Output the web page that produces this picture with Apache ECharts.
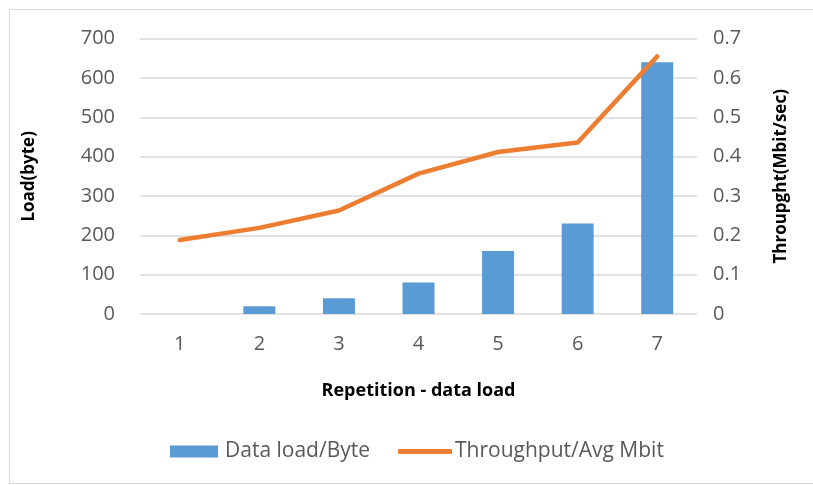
<!DOCTYPE html>
<html><head><meta charset="utf-8">
<script src="https://cdn.jsdelivr.net/npm/echarts@6/dist/echarts.min.js"></script>
<style>html,body{margin:0;padding:0;background:#fff}#c{width:813px;height:485px}</style>
</head><body><div id="c"></div>
<script>
const categories = ['1','2','3','4','5','6','7'];
const dataLoad = [0, 20, 40, 80, 160, 230, 640];
const throughput = [0.188, 0.219, 0.263, 0.357, 0.412, 0.436, 0.655];
const leftTicks = {min:0, max:700, interval:100};
const rightTicks = {min:0, max:0.7, interval:0.1};

const chart = echarts.init(document.getElementById('c'), null, {renderer:'canvas'});
const labelFont = {color:'#595959', fontSize:20, fontFamily:'Open Sans'};
chart.setOption({
  animation:false,
  graphic:[{type:'rect', shape:{x:9.5,y:9.5,width:820,height:474}, style:{fill:'none', stroke:'#d9d9d9', lineWidth:1}, silent:true}],
  grid:{left:140, right:116, top:38.7, bottom:171},
  legend:[
    {data:[{name:'Data load/Byte', icon:'rect'}], left:165, top:436, itemWidth:48, itemHeight:12, itemGap:0,
     textStyle:{color:'#595959', fontSize:21, fontFamily:'Open Sans', padding:[0,0,0,2]}},
    {data:[{name:'Throughput/Avg Mbit', icon:'roundRect'}], left:393, top:436, itemWidth:54, itemHeight:5,
     textStyle:{color:'#595959', fontSize:21, fontFamily:'Open Sans', padding:[0,0,0,-2]}}
  ],
  xAxis:{type:'category', data:categories,
    axisLine:{show:false}, axisTick:{show:false},
    axisLabel:Object.assign({margin:20}, labelFont),
    name:'Repetition - data load', nameLocation:'middle', nameGap:68,
    nameTextStyle:{color:'#000', fontSize:18, fontWeight:'bold', fontFamily:'Open Sans'}},
  yAxis:[
    {type:'value', min:leftTicks.min, max:leftTicks.max, interval:leftTicks.interval,
     axisLine:{show:false}, axisTick:{show:false},
     axisLabel:Object.assign({margin:25}, labelFont),
     splitLine:{lineStyle:{color:'#d9d9d9', width:1.5}},
     name:'Load(byte)', nameLocation:'middle', nameGap:102,
     nameTextStyle:{color:'#000', fontSize:17, fontWeight:'bold', fontFamily:'Open Sans'}},
    {type:'value', min:rightTicks.min, max:rightTicks.max, interval:rightTicks.interval,
     axisLine:{show:false}, axisTick:{show:false},
     axisLabel:Object.assign({margin:16, formatter:v=>String(Math.round(v*10)/10)}, labelFont),
     splitLine:{show:false},
     name:'Throupght(Mbit/sec)', nameLocation:'middle', nameGap:76,
     nameTextStyle:{color:'#000', fontSize:17, fontWeight:'bold', fontFamily:'Open Sans'}}
  ],
  series:[
    {name:'Data load/Byte', type:'bar', data:dataLoad, yAxisIndex:0, barWidth:32,
     itemStyle:{color:'#5b9bd5'}},
    {name:'Throughput/Avg Mbit', type:'line', data:throughput, yAxisIndex:1, showSymbol:false, symbol:'none',
     lineStyle:{color:'#ed7d31', width:4.5, cap:'round', join:'round'}, itemStyle:{color:'#ed7d31'}}
  ]
});
</script></body></html>
